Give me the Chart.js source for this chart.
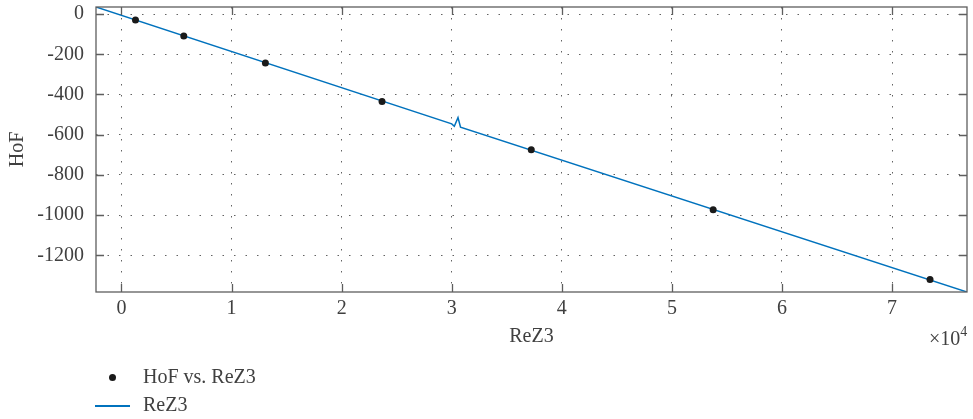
<!DOCTYPE html>
<html><head><meta charset="utf-8">
<script src="https://cdn.jsdelivr.net/npm/chart.js@4.4.0/dist/chart.umd.min.js"></script>
<style>
html,body{margin:0;padding:0;background:#fff;}
#wrap{position:relative;width:973px;height:419px;overflow:hidden;font-family:'Liberation Serif',serif;color:#404040;}
canvas{position:absolute;left:0;top:0;}
.lg{position:absolute;font-size:20px;line-height:24px;white-space:nowrap;}
#exp{position:absolute;left:929px;top:326px;font-size:20px;line-height:24px;white-space:nowrap;}
#exp sup{font-size:14px;vertical-align:0;position:relative;top:-9px;}
.dot{position:absolute;width:7px;height:7px;border-radius:50%;background:#1a1a1a;}
.ln{position:absolute;height:1.5px;background:#0072BD;}
</style></head>
<body>
<div id="wrap">
<canvas id="c" width="973" height="419"></canvas>
<div id="exp">×10<sup>4</sup></div>
<div id="legend"></div>
</div>
<script>
// ---- data ----
const seriesNames = ['HoF vs. ReZ3', 'ReZ3'];
const pointX = [1271, 5658, 13074, 23670, 37225, 53750, 73450];
const pointY = [-30, -109, -243, -435, -675, -973, -1320];
const lineX = [-2315, 30000, 30235, 30570, 30800, 76810];
const lineY = [35, -546, -558, -515, -563, -1382];
const xTicks = [0, 1, 2, 3, 4, 5, 6, 7];          // in units of 10^4
const yTicks = [0, -200, -400, -600, -800, -1000, -1200];
const xTitle = 'ReZ3';
const yTitle = 'HoF';

const FONT = "'Liberation Serif', serif";
const TXT = '#404040';
const AXIS = '#5e5e5e';

const frame = {
  id: 'frame',
  afterDraw(chart) {
    const {ctx, chartArea: a, scales: {x, y}} = chart;
    ctx.save();
    ctx.strokeStyle = AXIS;
    ctx.lineWidth = 1.3;
    ctx.setLineDash([]);
    ctx.beginPath();
    const T = 8;
    x.ticks.forEach(t => {
      const px = Math.round(x.getPixelForValue(t.value)) + 0.5;
      ctx.moveTo(px, a.bottom); ctx.lineTo(px, a.bottom - T);
      ctx.moveTo(px, a.top); ctx.lineTo(px, a.top + T);
    });
    y.ticks.forEach(t => {
      const py = Math.round(y.getPixelForValue(t.value)) + 0.5;
      ctx.moveTo(a.left, py); ctx.lineTo(a.left + T, py);
      ctx.moveTo(a.right, py); ctx.lineTo(a.right - T, py);
    });
    ctx.stroke();
    ctx.strokeRect(a.left, a.top, a.right - a.left, a.bottom - a.top);
    ctx.restore();
  }
};

const chart = new Chart(document.getElementById('c'), {
  type: 'scatter',
  data: {
    datasets: [
      {
        label: seriesNames[0],
        data: pointX.map((v, i) => ({x: v, y: pointY[i]})),
        showLine: false,
        pointRadius: 3.5,
        pointBackgroundColor: '#1a1a1a',
        pointBorderColor: '#1a1a1a',
        pointBorderWidth: 0
      },
      {
        label: seriesNames[1],
        data: lineX.map((v, i) => ({x: v, y: lineY[i]})),
        showLine: true,
        borderColor: '#0072BD',
        borderWidth: 1.5,
        pointRadius: 0,
        tension: 0
      }
    ]
  },
  options: {
    responsive: false,
    animation: false,
    devicePixelRatio: 1,
    layout: {padding: {left: 0, top: 7, right: 6, bottom: 66}},
    plugins: {legend: {display: false}, tooltip: {enabled: false}},
    scales: {
      x: {
        type: 'linear',
        min: -2315, max: 76810,
        afterBuildTicks: s => { s.ticks = xTicks.map(v => ({value: v * 1e4})); },
        afterFit: s => { s.height = 61; s.paddingLeft = 0; s.paddingRight = 0; },
        ticks: {
          callback: v => String(Math.round(v / 1e4)),
          color: TXT, font: {family: FONT, size: 20}, padding: 5, maxRotation: 0
        },
        grid: {color: 'rgba(70,70,70,0.85)', lineWidth: 1, drawTicks: false},
        border: {display: false, dash: [1.5, 9.5]},
        title: {display: true, text: xTitle, color: TXT, font: {family: FONT, size: 20}, padding: {top: 0, bottom: 4}}
      },
      y: {
        type: 'linear',
        min: -1382, max: 35,
        afterBuildTicks: s => { s.ticks = yTicks.map(v => ({value: v})); },
        afterFit: s => { s.width = 96; s.paddingTop = 0; s.paddingBottom = 0; },
        ticks: {callback: v => String(v), color: TXT, font: {family: FONT, size: 20}, padding: 12},
        grid: {color: 'rgba(70,70,70,0.85)', lineWidth: 1, drawTicks: false},
        border: {display: false, dash: [1.5, 10]},
        title: {display: true, text: yTitle, color: TXT, font: {family: FONT, size: 20}, padding: {top: 6, bottom: 0}}
      }
    }
  },
  plugins: [frame]
});

// HTML legend (vertical, below the plot)
const lg = document.getElementById('legend');
lg.innerHTML =
  '<div class="dot" style="left:109px;top:374px"></div>' +
  '<div class="lg" style="left:143px;top:364px">' + seriesNames[0] + '</div>' +
  '<div class="ln" style="left:95px;top:405px;width:35px"></div>' +
  '<div class="lg" style="left:143px;top:392px">' + seriesNames[1] + '</div>';
</script>
</body></html>
